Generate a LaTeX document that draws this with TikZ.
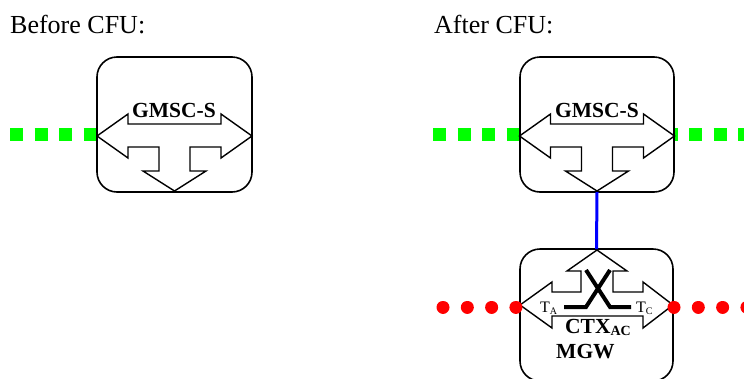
\documentclass[tikz,border=0pt]{standalone}
\usepackage{fontspec}
\setmainfont{Liberation Serif}
\definecolor{pgreen}{RGB}{0,255,0}
\definecolor{pred}{RGB}{255,0,0}
\definecolor{pblue}{RGB}{0,0,255}
\begin{document}
\begin{tikzpicture}[x=1pt,y=-1pt,
  box/.style={draw,line width=1.6pt,rounded corners=20pt,fill=white,inner sep=0pt,outer sep=0pt},
  arrowshape/.style={draw,line width=1.4pt,fill=white,line join=miter},
  greendots/.style={draw=pgreen,line width=13pt,dash pattern=on 13pt off 11.5pt},
  reddots/.style={draw=pred,line width=13pt,line cap=round,dash pattern=on 0.01pt off 24.3pt},
  crossline/.style={draw,line width=4pt},
  bigtxt/.style={inner sep=0pt,anchor=base west,font=\fontsize{26}{26}\selectfont},
  boldtxt/.style={inner sep=0pt,font=\bfseries\fontsize{21.5}{21.5}\selectfont},
  smalltxt/.style={inner sep=0pt,anchor=base west,font=\fontsize{16}{16}\selectfont}
]
\useasboundingbox (0,0) rectangle (744,378);

% green dotted lines (free ends as named coordinates)
\coordinate (g1a) at (10,134.5);
\coordinate (g1b) at (97,134.5);
\coordinate (g2a) at (433,134.5);
\coordinate (g2b) at (520,134.5);
\coordinate (g3a) at (664.5,134.5);
\coordinate (g3b) at (760,134.5);
\draw[greendots] (g1a) -- (g1b);
\draw[greendots] (g2a) -- (g2b);
\draw[greendots] (g3a) -- (g3b);

% boxes
\node[box,minimum width=155pt,minimum height=135pt] (gmscL) at (174.5,124.5) {};
\node[box,minimum width=154pt,minimum height=135pt] (gmscR) at (597,124.5) {};
\node[box,minimum width=153pt,minimum height=132pt] (mgw) at (596.5,315) {};

% GMSC arrow shapes
\foreach \cx in {174.5,597}{
\begin{scope}[shift={(\cx,0)}]
\draw[arrowshape] (-77.5,136) -- (-46.5,158) -- (-46.5,147) -- (-15.5,147) -- (-15.5,171)
  -- (-31.5,171) -- (0,191) -- (31.5,171) -- (15.5,171) -- (15.5,147) -- (46.5,147)
  -- (46.5,158) -- (77.5,136) -- (46.5,114) -- (46.5,124) -- (-46.5,124) -- (-46.5,114) -- cycle;
\end{scope}
}

% MGW arrow shape
\draw[arrowshape] (520,305) -- (552,282) -- (552,292) -- (581,292) -- (581,271) -- (567,271)
  -- (597,250) -- (627,271) -- (613,271) -- (613,292) -- (643,292) -- (643,282) -- (673,305)
  -- (643,328) -- (643,316) -- (552,316) -- (552,328) -- cycle;

% cross-connect
\draw[crossline] (564,307) -- (586,307) -- (610,270);
\draw[crossline] (586,270) -- (610,307) -- (631,307);

% red dotted lines
\coordinate (r1a) at (443,307);
\coordinate (r1b) at (520,307);
\coordinate (r2a) at (674,307);
\coordinate (r2b) at (752,307);
\draw[reddots] (r1a) -- (r1b);
\draw[reddots] (r2a) -- (r2b);

% blue link
\draw[pblue,line width=3pt] (gmscR.south) -- (mgw.north);

% texts
\node[bigtxt] (before) at (10,33) {Before CFU:};
\node[bigtxt] (after) at (434,33) {After CFU:};
\node[boldtxt,anchor=base] (labL) at (174,117) {GMSC-S};
\node[boldtxt,anchor=base] (labR) at (597,117) {GMSC-S};
\node[smalltxt] (ta) at (540,312) {T\raisebox{-2.5pt}{\fontsize{10}{10}\selectfont A}};
\node[smalltxt] (tc) at (636,312) {T\raisebox{-2.5pt}{\fontsize{10}{10}\selectfont C}};
\node[boldtxt,anchor=base west] (ctx) at (565,333) {CTX\raisebox{-2pt}{\fontsize{14}{14}\selectfont AC}};
\node[boldtxt,anchor=base west] (mgwl) at (556,358) {MGW};
\end{tikzpicture}
\end{document}
